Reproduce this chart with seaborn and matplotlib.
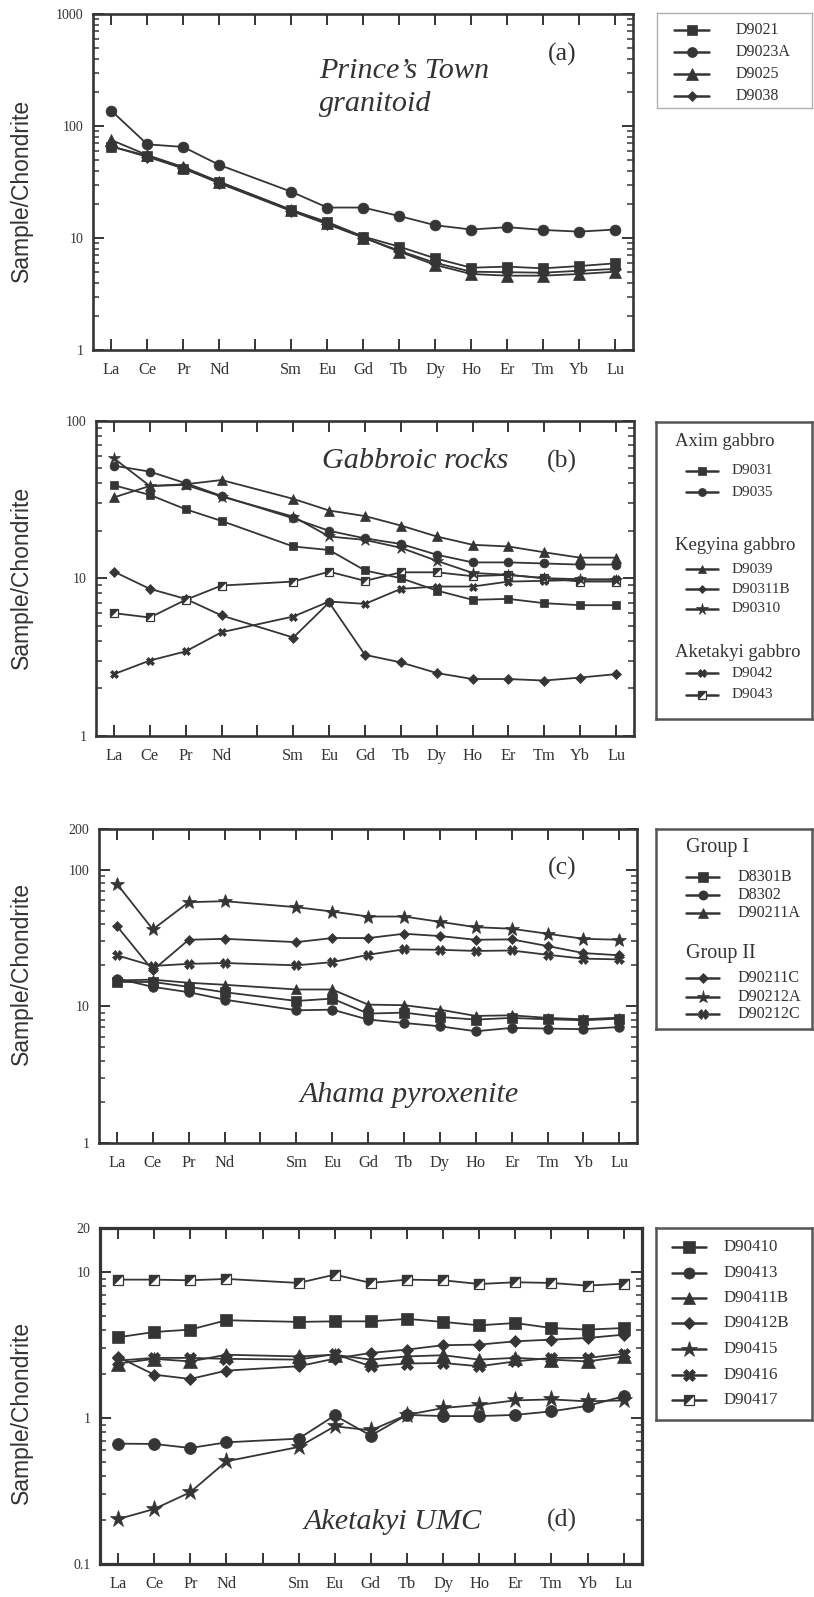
import numpy as np
import matplotlib
matplotlib.use("Agg")
import matplotlib.pyplot as plt
import seaborn as sns
from matplotlib.path import Path
from matplotlib.ticker import FixedLocator, FixedFormatter, LogLocator, NullFormatter, NullLocator

# ---------------- data ----------------
tick_labels = ['La', 'Ce', 'Pr', 'Nd', '', 'Sm', 'Eu', 'Gd', 'Tb', 'Dy', 'Ho', 'Er', 'Tm', 'Yb', 'Lu']
ree = ['La', 'Ce', 'Pr', 'Nd', 'Sm', 'Eu', 'Gd', 'Tb', 'Dy', 'Ho', 'Er', 'Tm', 'Yb', 'Lu']

# (a) Prince's Town granitoid
D9021 = [65.4, 54.3, 41.6, 31.6, 17.8, 13.9, 10.3, 8.37, 6.58, 5.43, 5.55, 5.36, 5.62, 5.94]
D9023A = [137, 68.6, 65.0, 44.9, 25.9, 18.7, 18.7, 15.7, 13.0, 11.9, 12.5, 11.8, 11.4, 11.9]
D9025 = [75.0, 55.0, 43.0, 31.8, 17.8, 13.5, 10.1, 7.55, 5.74, 4.77, 4.61, 4.61, 4.77, 5.0]
D9038 = [66.0, 53.0, 42.0, 30.8, 17.4, 13.3, 10.1, 7.7, 6.0, 5.0, 4.95, 4.9, 5.1, 5.3]

# (b) Gabbroic rocks
D9031 = [38.9, 33.8, 27.4, 23.1, 15.9, 15.1, 11.2, 10.0, 8.35, 7.29, 7.39, 6.94, 6.74, 6.74]
D9035 = [51.8, 47.5, 40.1, 33.3, 24.0, 20.0, 17.9, 16.5, 14.1, 12.6, 12.6, 12.4, 12.2, 12.2]
D9039 = [32.6, 38.5, 39.5, 42.0, 31.9, 26.9, 24.8, 21.6, 18.4, 16.3, 15.9, 14.6, 13.5, 13.5]
D90311B = [11.0, 8.56, 7.39, 5.80, 4.20, 7.01, 3.26, 2.92, 2.50, 2.29, 2.29, 2.24, 2.34, 2.46]
D90310 = [57.7, 38.5, 39.1, 33.0, 24.6, 18.4, 17.5, 15.6, 12.9, 10.8, 10.5, 10.0, 9.86, 9.76]
D9042 = [2.46, 3.00, 3.43, 4.54, 5.71, 7.11, 6.87, 8.56, 8.85, 8.85, 9.52, 9.62, 9.76, 9.86]
D9043 = [6.0, 5.63, 7.29, 8.98, 9.52, 11.0, 9.62, 10.9, 10.9, 10.3, 10.5, 10.0, 9.52, 9.52]

# (c) Ahama pyroxenite
D8301B = [15.1, 15.1, 13.9, 12.7, 10.96, 11.4, 8.85, 9.0, 8.36, 8.0, 8.23, 8.04, 7.91, 8.13]
D8302 = [16.0, 13.9, 12.7, 11.2, 9.36, 9.46, 8.0, 7.56, 7.14, 6.57, 6.95, 6.87, 6.80, 7.06]
D90211A = [15.5, 15.7, 14.9, 14.4, 13.3, 13.3, 10.3, 10.2, 9.46, 8.51, 8.60, 8.23, 8.04, 8.27]
D90211C = [38.8, 18.4, 30.8, 31.3, 29.6, 31.7, 31.7, 34.1, 32.8, 30.8, 31.0, 27.7, 24.6, 23.7]
D90212A = [79.1, 36.7, 58.1, 59.1, 53.4, 49.6, 45.6, 45.6, 41.7, 38.1, 37.1, 34.1, 31.3, 30.8]
D90212C = [23.7, 19.8, 20.5, 20.8, 20.0, 21.1, 23.9, 26.2, 26.0, 25.5, 25.7, 23.9, 22.4, 22.1]

# (d) Aketakyi UMC
D90410 = [3.57, 3.88, 4.03, 4.67, 4.55, 4.59, 4.59, 4.77, 4.55, 4.31, 4.47, 4.13, 4.03, 4.13]
D90413 = [0.667, 0.664, 0.623, 0.681, 0.722, 1.04, 0.757, 1.05, 1.03, 1.03, 1.05, 1.11, 1.21, 1.41]
D90411B = [2.36, 2.54, 2.44, 2.71, 2.64, 2.71, 2.51, 2.64, 2.69, 2.51, 2.58, 2.51, 2.44, 2.64]
D90412B = [2.62, 1.98, 1.85, 2.11, 2.26, 2.55, 2.79, 2.94, 3.15, 3.18, 3.35, 3.44, 3.53, 3.72]
D90415 = [0.203, 0.238, 0.310, 0.505, 0.633, 0.877, 0.823, 1.05, 1.17, 1.23, 1.32, 1.34, 1.30, 1.32]
D90416 = [2.47, 2.58, 2.58, 2.54, 2.51, 2.74, 2.26, 2.36, 2.38, 2.26, 2.44, 2.58, 2.58, 2.75]
D90417 = [8.86, 8.86, 8.77, 8.96, 8.41, 9.59, 8.41, 8.86, 8.77, 8.27, 8.50, 8.41, 8.06, 8.32]

# ---------------- style ----------------
sns.set_style("white")
plt.rcParams['font.family'] = ['Liberation Serif', 'DejaVu Serif']
DARK = '#353535'
W, H = 814, 1597
fig = plt.figure(figsize=(W / 100, H / 100), dpi=100)

xpos = [tick_labels.index(e) for e in ree]
HALF = Path([(-1, 1), (1, 1), (-1, -1), (-1, 1)],
            [Path.MOVETO, Path.LINETO, Path.LINETO, Path.CLOSEPOLY])

MK = {'sq': ('s', 1.0), 'ci': ('o', 1.0), 'tr': ('^', 1.1), 'di': ('D', 0.75),
      'st': ('*', 1.45), 'x': ('X', 1.0), 'half': ('s', 1.0)}


def px_axes(x0, y0, x1, y1):
    return fig.add_axes([x0 / W, 1 - y1 / H, (x1 - x0) / W, (y1 - y0) / H])


def draw_series(ax, vals, kind, ms):
    m, f = MK[kind]
    if kind == 'half':
        sns.lineplot(x=xpos, y=vals, ax=ax, color=DARK, linewidth=1.3, marker='s',
                     markersize=ms * 0.9, markerfacecolor='white', markeredgecolor=DARK,
                     markeredgewidth=0.9, estimator=None, sort=False)
        sns.lineplot(x=xpos, y=vals, ax=ax, color=DARK, linestyle='none', marker=HALF,
                     markersize=ms * 0.9, markerfacecolor=DARK, markeredgecolor=DARK,
                     markeredgewidth=0.3, estimator=None, sort=False)
    else:
        sns.lineplot(x=xpos, y=vals, ax=ax, color=DARK, linewidth=1.3, marker=m,
                     markersize=ms * f, markerfacecolor=DARK, markeredgecolor=DARK,
                     markeredgewidth=0.5, estimator=None, sort=False)


def style_axes(ax, ylim, yt, ylab):
    ax.set_yscale('log')
    ax.set_xlim(-0.5, 14.5)
    ax.set_ylim(*ylim)
    ax.xaxis.set_major_locator(FixedLocator(list(range(15))))
    ax.xaxis.set_major_formatter(FixedFormatter(tick_labels))
    ax.xaxis.set_minor_locator(NullLocator())
    ax.yaxis.set_major_locator(FixedLocator(yt))
    ax.yaxis.set_major_formatter(FixedFormatter(ylab))
    ax.yaxis.set_minor_locator(LogLocator(base=10, subs=np.arange(2, 10)))
    ax.yaxis.set_minor_formatter(NullFormatter())
    for sp in ax.spines.values():
        sp.set_linewidth(1.9)
        sp.set_color(DARK)
        sp.set_visible(True)
    ax.tick_params(which='both', direction='in', top=True, right=True, left=True,
                   bottom=True, color=DARK, labelcolor='#333333')
    ax.tick_params(which='major', length=8, width=1.4)
    ax.tick_params(which='minor', length=4.5, width=1.1)
    ax.tick_params(axis='x', which='major', pad=9, labelsize=11.8)
    ax.tick_params(axis='y', which='major', pad=7, labelsize=10)
    ax.set_xlabel('')
    ax.set_ylabel('')
    ax.grid(False)


def legend_box(x0, y0, x1, y1, lw, ec):
    lg = px_axes(x0, y0, x1, y1)
    lg.set_xlim(x0, x1)
    lg.set_ylim(y1, y0)
    lg.set_xticks([])
    lg.set_yticks([])
    lg.set_facecolor('white')
    for sp in lg.spines.values():
        sp.set_linewidth(lw)
        sp.set_color(ec)
    return lg


def glyph(lg, x0, x1, y, kind, ms, label, tx, fs):
    lg.plot([x0, x1], [y, y], color=DARK, lw=1.8)
    xm = (x0 + x1) / 2
    m, f = MK[kind]
    if kind == 'half':
        lg.plot([xm], [y], marker='s', ms=ms * 0.9, mfc='white', mec=DARK, mew=0.9, ls='none')
        lg.plot([xm], [y], marker=HALF, ms=ms * 0.9, mfc=DARK, mec=DARK, mew=0.3, ls='none')
    else:
        lg.plot([xm], [y], marker=m, ms=ms * f, mfc=DARK, mec=DARK, mew=0.5, ls='none')
    lg.text(tx, y, label, ha='left', va='center', fontsize=fs, color='#333333')


def ylabel(y):
    fig.text(21 / W, 1 - y / H, 'Sample/Chondrite', rotation=90, ha='center', va='center',
             fontsize=16.5, color='#333333', family=['Liberation Sans', 'DejaVu Sans'])


def ptext(x, y, s, fs, style='normal', ha='left'):
    fig.text(x / W, 1 - y / H, s, ha=ha, va='center', fontsize=fs, style=style, color='#333333')


# ---------------- panel (a) ----------------
axa = px_axes(93.3, 14, 633.3, 350)
for vals, k in [(D9038, 'di'), (D9025, 'tr'), (D9021, 'sq'), (D9023A, 'ci')]:
    draw_series(axa, vals, k, 7.8)
style_axes(axa, (1, 1000), [1, 10, 100, 1000], ['1', '10', '100', '1000'])
ptext(319, 71, 'Prince\u2019s Town', 21.7, 'italic')
ptext(319, 104, 'granitoid', 21.7, 'italic')
ptext(562, 54, '(a)', 18.5, ha='center')
ylabel(190)
lga = legend_box(657, 13, 812, 108, 1.0, '#b0b0b0')
for y, k, lab in [(30, 'sq', 'D9021'), (52, 'ci', 'D9023A'), (74, 'tr', 'D9025'), (96, 'di', 'D9038')]:
    glyph(lga, 674, 709, y, k, 7.2, lab, 736, 11.5)

# ---------------- panel (b) ----------------
axb = px_axes(96, 420.7, 634, 735.7)
for vals, k in [(D90311B, 'di'), (D9042, 'x'), (D9043, 'half'), (D9031, 'sq'),
                (D9039, 'tr'), (D9035, 'ci'), (D90310, 'st')]:
    draw_series(axb, vals, k, 6.4)
style_axes(axb, (1, 100), [1, 10, 100], ['1', '10', '100'])
ptext(322, 461.5, 'Gabbroic rocks', 21.7, 'italic')
ptext(562, 461.5, '(b)', 18.5, ha='center')
ylabel(577)
lgb = legend_box(656, 421.7, 812, 718.7, 1.8, '#555555')
for y, s in [(441.7, 'Axim gabbro'), (545, 'Kegyina gabbro'), (652.5, 'Aketakyi gabbro')]:
    lgb.text(675, y, s, ha='left', va='center', fontsize=13.5, color='#333333')
for y, k, lab in [(470.7, 'sq', 'D9031'), (492.3, 'ci', 'D9035'), (569.5, 'tr', 'D9039'),
                  (589.5, 'di', 'D90311B'), (609, 'st', 'D90310'), (673.3, 'x', 'D9042'),
                  (695, 'half', 'D9043')]:
    glyph(lgb, 686, 718, y, k, 5.8, lab, 732, 11)

# ---------------- panel (c) ----------------
axc = px_axes(99, 829, 637.3, 1142.7)
for vals, k in [(D8302, 'ci'), (D8301B, 'sq'), (D90211A, 'tr'), (D90212C, 'x'),
                (D90211C, 'di'), (D90212A, 'st')]:
    draw_series(axc, vals, k, 6.9)
style_axes(axc, (1, 200), [1, 10, 100, 200], ['1', '10', '100', '200'])
ptext(300, 1095, 'Ahama pyroxenite', 21.7, 'italic')
ptext(562, 868, '(c)', 18.5, ha='center')
ylabel(973)
lgc = legend_box(656, 828.7, 812, 1029.3, 1.8, '#555555')
for y, s in [(847.7, 'Group I'), (953.3, 'Group II')]:
    lgc.text(686, y, s, ha='left', va='center', fontsize=14.5, color='#333333')
for y, k, lab in [(876.7, 'sq', 'D8301B'), (895, 'ci', 'D8302'), (913.3, 'tr', 'D90211A'),
                  (978.3, 'di', 'D90211C'), (996.7, 'st', 'D90212A'), (1014.3, 'x', 'D90212C')]:
    glyph(lgc, 686, 719, y, k, 6.6, lab, 737, 11.6)

# ---------------- panel (d) ----------------
axd = px_axes(100, 1228, 641.7, 1564)
for vals, k in [(D90411B, 'tr'), (D90416, 'x'), (D90412B, 'di'), (D90415, 'st'),
                (D90413, 'ci'), (D90410, 'sq'), (D90417, 'half')]:
    draw_series(axd, vals, k, 8.6)
style_axes(axd, (0.1, 20), [0.1, 1, 10, 20], ['0.1', '1', '10', '20'])
for sp in axd.spines.values():
    sp.set_linewidth(2.3)
ptext(304, 1522, 'Aketakyi UMC', 21.7, 'italic')
ptext(562, 1520, '(d)', 18.5, ha='center')
ylabel(1412)
lgd = legend_box(656, 1228.3, 812, 1420, 1.8, '#555555')
for y, k, lab in [(1246.7, 'sq', 'D90410'), (1272.7, 'ci', 'D90413'), (1297.7, 'tr', 'D90411B'),
                  (1323.3, 'di', 'D90412B'), (1349.3, 'st', 'D90415'), (1375, 'x', 'D90416'),
                  (1400, 'half', 'D90417')]:
    glyph(lgd, 672, 706, y, k, 8.0, lab, 724, 12.2)

fig.savefig('out.png', dpi=100)
